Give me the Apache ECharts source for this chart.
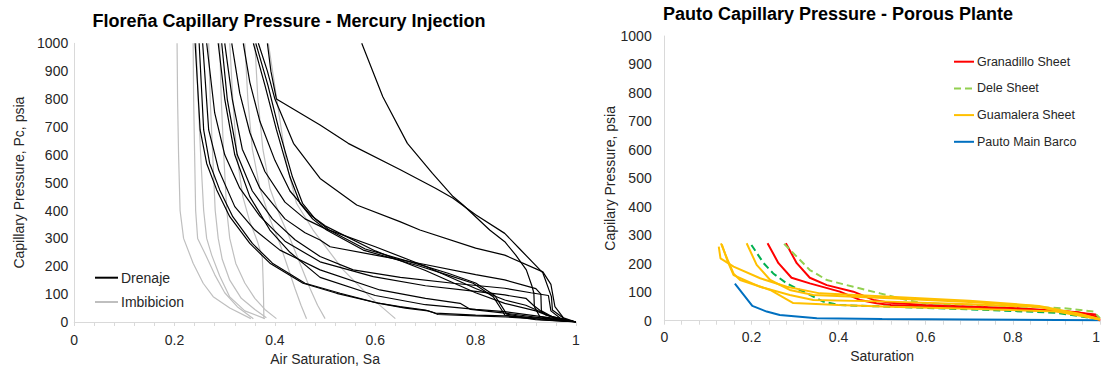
<!DOCTYPE html>
<html><head><meta charset="utf-8">
<script src="https://cdn.jsdelivr.net/npm/echarts@6/dist/echarts.min.js"></script>
<style>html,body{margin:0;padding:0;background:#fff}#c{width:1101px;height:367px}</style>
</head><body><div id="c"></div>
<script>
// ---------- Left chart: Floreña, Drenaje (black) ----------
const B01 = [[0.573,1000],[0.615,808],[0.664,641],[0.714,533],[0.755,450],[0.775,420],[0.828,330],[0.858,288],[0.88,240],[0.901,187],[0.912,130],[0.916,104],[0.917,55],[0.928,19],[0.97,5],[1,0]];
const B02 = [[0.385,1000],[0.392,900],[0.403,800],[0.49,707],[0.546,641],[0.649,547],[0.72,480],[0.755,444],[0.80,385],[0.858,318],[0.888,262],[0.934,176],[0.951,91],[0.953,43],[0.98,7],[1,0]];
const B03 = [[0.367,1000],[0.385,900],[0.40,800],[0.437,641],[0.49,515],[0.563,420],[0.649,360],[0.689,330],[0.80,265],[0.858,240],[0.934,180],[0.95,135],[0.958,55],[0.975,15],[1,0]];
const B04 = [[0.357,1000],[0.38,850],[0.403,690],[0.43,520],[0.45,426],[0.475,370],[0.503,330],[0.576,258],[0.689,200],[0.742,170],[0.795,139],[0.835,91],[0.852,43],[0.858,25],[0.92,8],[1,0]];
const B05 = [[0.362,1000],[0.386,850],[0.408,690],[0.435,520],[0.455,426],[0.48,370],[0.508,330],[0.58,262],[0.69,205],[0.745,175],[0.80,140],[0.838,95],[0.855,48],[0.862,28],[0.93,8],[1,0]];
const B06 = [[0.314,1000],[0.33,820],[0.35,680],[0.38,540],[0.42,430],[0.46,370],[0.50,335],[0.60,270],[0.70,200],[0.80,120],[0.858,79],[0.90,60],[0.95,20],[1,0]];
const B07 = [[0.337,1000],[0.35,860],[0.37,720],[0.40,580],[0.43,470],[0.47,385],[0.50,345],[0.60,255],[0.70,185],[0.80,105],[0.858,67],[0.92,40],[0.96,12],[1,0]];
const B08 = [[0.30,1000],[0.315,800],[0.335,620],[0.37,480],[0.42,370],[0.46,320],[0.49,294],[0.51,270],[0.60,240],[0.689,210],[0.80,170],[0.858,151],[0.92,120],[0.93,100],[0.931,40],[0.96,12],[1,0]];
const B09 = [[0.294,1000],[0.305,800],[0.325,600],[0.355,470],[0.395,370],[0.44,295],[0.49,235],[0.556,187],[0.65,160],[0.755,139],[0.858,121],[0.91,105],[0.945,95],[0.95,40],[0.97,12],[1,0]];
const B10 = [[0.264,1000],[0.28,750],[0.30,600],[0.33,480],[0.37,380],[0.42,290],[0.49,216],[0.596,163],[0.70,130],[0.80,110],[0.858,97],[0.90,85],[0.915,60],[0.94,25],[1,0]];
const B11 = [[0.256,1000],[0.268,689],[0.288,545],[0.32,414],[0.36,330],[0.41,258],[0.49,187],[0.609,115],[0.70,85],[0.769,67],[0.79,45],[0.858,32],[0.93,15],[1,0]];
const B12 = [[0.287,1000],[0.30,800],[0.32,600],[0.35,450],[0.39,330],[0.43,250],[0.49,160],[0.60,95],[0.70,62],[0.80,45],[0.858,37],[0.95,15],[1,0]];
const B13 = [[0.241,1000],[0.251,689],[0.264,569],[0.284,474],[0.31,378],[0.35,282],[0.39,211],[0.456,139],[0.523,103],[0.60,70],[0.649,55],[0.70,43],[0.72,32],[0.80,25],[0.858,22],[0.934,13],[1,0]];
const B14 = [[0.249,1000],[0.258,689],[0.27,569],[0.29,474],[0.316,378],[0.355,282],[0.395,211],[0.46,139],[0.53,103],[0.605,68],[0.66,50],[0.705,40],[0.715,34],[0.725,27],[0.80,22],[0.86,18],[0.94,9],[1,0]];

// ---------- Left chart: Imbibicion (gray) ----------
const G01 = [[0.205,1000],[0.206,800],[0.208,600],[0.211,400],[0.218,300],[0.237,211],[0.257,139],[0.277,91],[0.31,50],[0.352,12]];
const G02 = [[0.237,1000],[0.238,800],[0.24,600],[0.242,400],[0.246,300],[0.262,240],[0.28,170],[0.30,105],[0.325,55],[0.357,12]];
const G03 = [[0.243,1000],[0.247,800],[0.252,600],[0.258,400],[0.264,300],[0.274,240],[0.29,165],[0.31,90],[0.34,40],[0.38,12]];
const G04 = [[0.268,1000],[0.271,800],[0.276,600],[0.281,400],[0.287,300],[0.295,225],[0.31,150],[0.333,85],[0.36,45],[0.383,15]];
const G05 = [[0.29,1000],[0.293,800],[0.298,600],[0.304,400],[0.31,300],[0.322,210],[0.34,140],[0.36,85],[0.38,45],[0.403,12]];
const G06 = [[0.31,1000],[0.316,800],[0.324,600],[0.336,450],[0.35,360],[0.365,290],[0.375,230],[0.377,120],[0.378,12]];
const G07 = [[0.34,1000],[0.346,800],[0.355,620],[0.37,480],[0.39,370],[0.41,280],[0.425,200],[0.44,120],[0.452,60],[0.463,12]];
const G08 = [[0.36,1000],[0.366,800],[0.376,620],[0.39,480],[0.41,380],[0.43,300],[0.45,210],[0.47,120],[0.485,60],[0.50,12]];
const G09 = [[0.387,1000],[0.403,808],[0.423,569],[0.443,426],[0.476,330],[0.536,187],[0.589,91],[0.64,12]];

// ---------- Right chart: Pauto ----------
const granadillo1 = [[0.237,272],[0.262,202],[0.292,151],[0.334,131],[0.403,102],[0.449,73],[0.487,61],[0.52,55],[0.7,45],[0.924,32],[0.99,22],[0.996,5],[1,0]];
const granadillo2 = [[0.279,272],[0.304,202],[0.334,151],[0.373,125],[0.434,102],[0.48,73],[0.518,63],[0.6,55],[0.8,45],[0.95,30],[0.99,15],[1,3]];
const deleLight = [[0.275,270],[0.304,225],[0.334,178],[0.373,143],[0.434,119],[0.495,96],[0.556,73],[0.595,61],[0.725,55],[0.84,49],[0.924,43],[0.985,32],[1,9]];
const deleDark = [[0.2,266],[0.228,202],[0.25,166],[0.281,131],[0.327,96],[0.365,67],[0.403,55],[0.5,50],[0.7,40],[0.9,28],[1,5]];
const guamalera1 = [[0.125,260],[0.129,219],[0.159,190],[0.22,149],[0.281,119],[0.357,96],[0.518,84],[0.7,70],[0.86,52],[0.95,25],[1,5]];
const guamalera2 = [[0.13,272],[0.145,215],[0.159,165],[0.174,143],[0.243,108],[0.296,62],[0.4,55],[0.518,49],[0.7,42],[0.9,32],[1,5]];
const guamalera3 = [[0.189,272],[0.212,196],[0.243,143],[0.288,108],[0.342,90],[0.518,79],[0.7,66],[0.85,52],[0.94,25],[1,3]];
const guamalera4 = [[0.132,268],[0.145,210],[0.159,160],[0.22,119],[0.288,90],[0.342,73],[0.518,67],[0.7,58],[0.86,48],[0.96,20],[1,5]];
const pautoMain = [[0.162,130],[0.202,52],[0.235,32],[0.265,20],[0.35,9],[0.5,6],[0.7,4],[1,2]];

const drenajeCurves = [B01,B02,B03,B04,B05,B06,B07,B08,B09,B10,B11,B12,B13,B14];
const imbibicionCurves = [G01,G02,G03,G04,G05,G06,G07,G08,G09];
const leftLegend = ['Drenaje','Imbibicion'];
const rightLegend = ['Granadillo Sheet','Dele Sheet','Guamalera Sheet','Pauto Main Barco'];

const FONT = 'Liberation Sans, Arial, sans-serif';
const TXT = '#262626';
const AXC = '#d9d9d9';

function xAx(gi, labelMargin, nameGap, name, alignMax){
  return {type:'value', gridIndex:gi, min:0, max:1, interval:0.2,
    name:name, nameLocation:'middle', nameGap:nameGap,
    nameTextStyle:{fontFamily:FONT, fontSize:14, color:TXT},
    axisLine:{show:true, lineStyle:{color:AXC, width:1}},
    axisTick:{show:true, length:4, lineStyle:{color:AXC}},
    minorTick:{show:true, splitNumber:5, length:4, lineStyle:{color:AXC}},
    splitLine:{show:false},
    axisLabel:{fontFamily:FONT, fontSize:14, color:TXT, margin:labelMargin,
      alignMaxLabel: alignMax ? 'right' : null, formatter: v => String(v)}};
}
function yAx(gi, labelMargin, nameGap, name){
  return {type:'value', gridIndex:gi, min:0, max:1000, interval:100,
    name:name, nameLocation:'middle', nameGap:nameGap,
    nameTextStyle:{fontFamily:FONT, fontSize:14, color:TXT},
    axisLine:{show:true, lineStyle:{color:AXC, width:1}},
    axisTick:{show:false},
    splitLine:{show:false},
    axisLabel:{fontFamily:FONT, fontSize:14, color:TXT, margin:labelMargin, formatter: v => String(v)}};
}

const series = [];
imbibicionCurves.forEach(d => series.push({type:'line', name:'Imbibicion', xAxisIndex:0, yAxisIndex:0,
  data:d, symbol:'none', lineStyle:{color:'#bfbfbf', width:1.2}, itemStyle:{color:'#bfbfbf'}}));
drenajeCurves.forEach(d => series.push({type:'line', name:'Drenaje', xAxisIndex:0, yAxisIndex:0,
  data:d, symbol:'none', lineStyle:{color:'#000000', width:1.2}, itemStyle:{color:'#000000'}}));

function rs(name, d, color, dashed){
  series.push({type:'line', name:name, xAxisIndex:1, yAxisIndex:1, data:d, symbol:'none',
    lineStyle:{color:color, width:2, type: dashed ? [7,4] : 'solid'}, itemStyle:{color:color}});
}
rs('Pauto Main Barco', pautoMain, '#0070c0', false);
rs('Granadillo Sheet', granadillo1, '#ff0000', false);
rs('Granadillo Sheet', granadillo2, '#ff0000', false);
rs('Dele Sheet', deleLight, '#92d050', true);
rs('Dele Sheet', deleDark, '#00b050', true);
rs('Guamalera Sheet', guamalera1, '#ffc000', false);
rs('Guamalera Sheet', guamalera2, '#ffc000', false);
rs('Guamalera Sheet', guamalera3, '#ffc000', false);
rs('Guamalera Sheet', guamalera4, '#ffc000', false);

const chart = echarts.init(document.getElementById('c'), null, {renderer:'svg'});
chart.setOption({
  animation:false,
  backgroundColor:'#ffffff',
  title:[
    {text:'Floreña Capillary Pressure - Mercury Injection', left:289, top:12, padding:0, textAlign:'center',
     textStyle:{fontFamily:FONT, fontSize:18, fontWeight:'bold', color:'#000'}},
    {text:'Pauto Capillary Pressure - Porous Plante', left:838, top:5, padding:0, textAlign:'center',
     textStyle:{fontFamily:FONT, fontSize:18, fontWeight:'bold', color:'#000'}}
  ],
  legend:[
    {data:leftLegend, orient:'vertical', left:94, top:270.7, padding:0, itemWidth:23, itemHeight:14, itemGap:10.3,
     selectedMode:false, itemStyle:{opacity:0},
     textStyle:{fontFamily:FONT, fontSize:14, color:TXT, lineHeight:14, padding:[0,0,0,-2]}},
    {data:rightLegend, orient:'vertical', left:953, top:54.7, padding:0, itemWidth:20, itemHeight:14, itemGap:12.7,
     selectedMode:false, itemStyle:{opacity:0},
     textStyle:{fontFamily:FONT, fontSize:12.5, color:TXT, lineHeight:14, padding:[0,0,0,-2]}}
  ],
  grid:[
    {left:74.2, top:43.3, width:501.8, height:278.7, containLabel:false, outerBoundsMode:'none'},
    {left:664.3, top:36, width:435.7, height:284.7, containLabel:false, outerBoundsMode:'none'}
  ],
  xAxis:[xAx(0, 11, 29, 'Air Saturation, Sa', false), xAx(1, 9.6, 27.3, 'Saturation', true)],
  yAxis:[yAx(0, 6, 48, 'Capillary Pressure, Pc, psia'), yAx(1, 12.6, 45, 'Capilary Pressure, psia')],
  series:series
});
</script></body></html>
